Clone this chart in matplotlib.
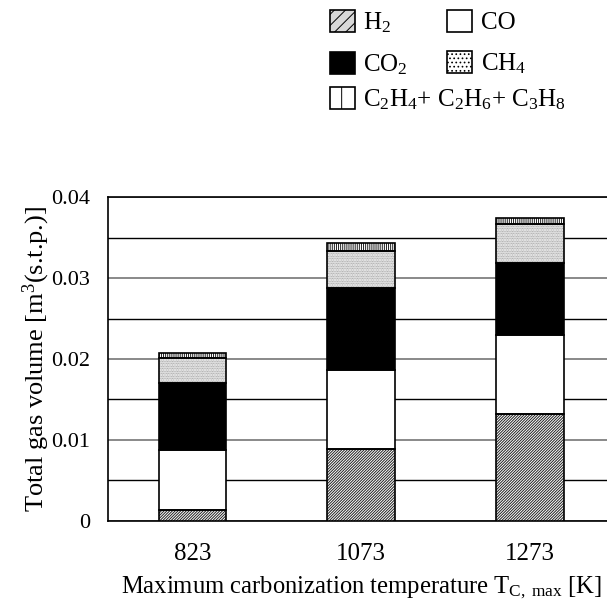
import matplotlib.pyplot as plt
import numpy as np
from matplotlib.patches import Patch

plt.rcParams['font.family'] = ['Liberation Serif', 'DejaVu Serif']
plt.rcParams['mathtext.fontset'] = 'custom'
plt.rcParams['mathtext.rm'] = 'Liberation Serif'
plt.rcParams['mathtext.it'] = 'Liberation Serif:italic'
plt.rcParams['hatch.linewidth'] = 0.7

temps = ['823', '1073', '1273']
h2 = [0.0013, 0.0089, 0.0132]
co = [0.0075, 0.0098, 0.0098]
co2 = [0.0083, 0.0101, 0.0089]
ch4 = [0.0030, 0.0046, 0.0048]
c2c3 = [0.0006, 0.0010, 0.0007]

y_ticks = [0, 0.01, 0.02, 0.03, 0.04]
y_ticklabels = ['0', '0.01', '0.02', '0.03', '0.04']

H2 = 'H$_2$'
CO = 'CO'
CO2 = 'CO$_2$'
CH4 = 'CH$_4$'
C2C3 = 'C$_2$H$_4$+ C$_2$H$_6$+ C$_3$H$_8$'


def stacked(ax, x, vals, bottom, face, hatch, hatch_color):
    # hatched fill first, then a black outline on top so the hatch can be grey
    ax.bar(x, vals, 0.4, bottom=bottom, color=face, edgecolor=hatch_color,
           hatch=hatch, linewidth=0, zorder=3)
    ax.bar(x, vals, 0.4, bottom=bottom, fill=False, edgecolor='black',
           linewidth=1.2, zorder=4)


fig = plt.figure(figsize=(6.07, 6.08), dpi=100)
ax = fig.add_axes([0.178, 0.1436, 0.834, 0.5316])

x = np.arange(len(temps))
bottom = np.zeros(len(temps))
layers = [
    (h2, 'white', '/' * 12, '#202020'),
    (co, 'white', None, 'black'),
    (co2, 'black', None, 'black'),
    (ch4, 'white', '.' * 10, '#909090'),
    (c2c3, 'white', '|' * 8, '#202020'),
]
for vals, face, hatch, hc in layers:
    stacked(ax, x, vals, bottom, face, hatch, hc)
    bottom = bottom + np.array(vals)

ax.set_xlim(-0.5, 2.5)
ax.set_ylim(0, 0.04)
ax.set_yticks(y_ticks)
ax.set_yticklabels(y_ticklabels)
ax.set_yticks(np.arange(0.005, 0.04, 0.01), minor=True)
ax.set_xticks(x)
ax.set_xticklabels(temps)
ax.yaxis.grid(True, which='major', color='#808080', linewidth=1.3, zorder=0)
ax.yaxis.grid(True, which='minor', color='black', linewidth=1.0, zorder=0)
ax.set_axisbelow(True)
ax.tick_params(axis='both', which='both', length=0)
ax.tick_params(axis='y', pad=13, labelsize=16)
ax.tick_params(axis='x', pad=16, labelsize=18)
for sp in ax.spines.values():
    sp.set_linewidth(1.2)

ax.set_ylabel('Total gas volume [m$^3$(s.t.p.)]', fontsize=19, labelpad=-1)
ax.set_xlabel(r'Maximum carbonization temperature T$_{\mathrm{C,\ max}}$ [K]',
              fontsize=17.7, labelpad=7)

# legend swatches
swatch = dict(edgecolor='black', linewidth=1.2)
legend_patches = {
    H2: Patch(facecolor='#d8d8d8', hatch='///', **swatch),
    CO: Patch(facecolor='white', **swatch),
    CO2: Patch(facecolor='black', **swatch),
    CH4: Patch(facecolor='white', hatch='....', **swatch),
    C2C3: Patch(facecolor='white', hatch='|', **swatch),
}
leg_style = dict(loc='upper left', frameon=False, fontsize=18, handlelength=1.0,
                 handleheight=1.0, handletextpad=0.35, borderpad=0, borderaxespad=0)
top_names = [H2, CO2, CO, CH4]
fig.legend([legend_patches[n] for n in top_names], top_names, ncol=2,
           bbox_to_anchor=(0.543, 0.984), columnspacing=1.55, labelspacing=0.66,
           **leg_style)
fig.legend([legend_patches[C2C3]], [C2C3], bbox_to_anchor=(0.543, 0.857),
           **leg_style)

fig.savefig('out.png', dpi=100)
